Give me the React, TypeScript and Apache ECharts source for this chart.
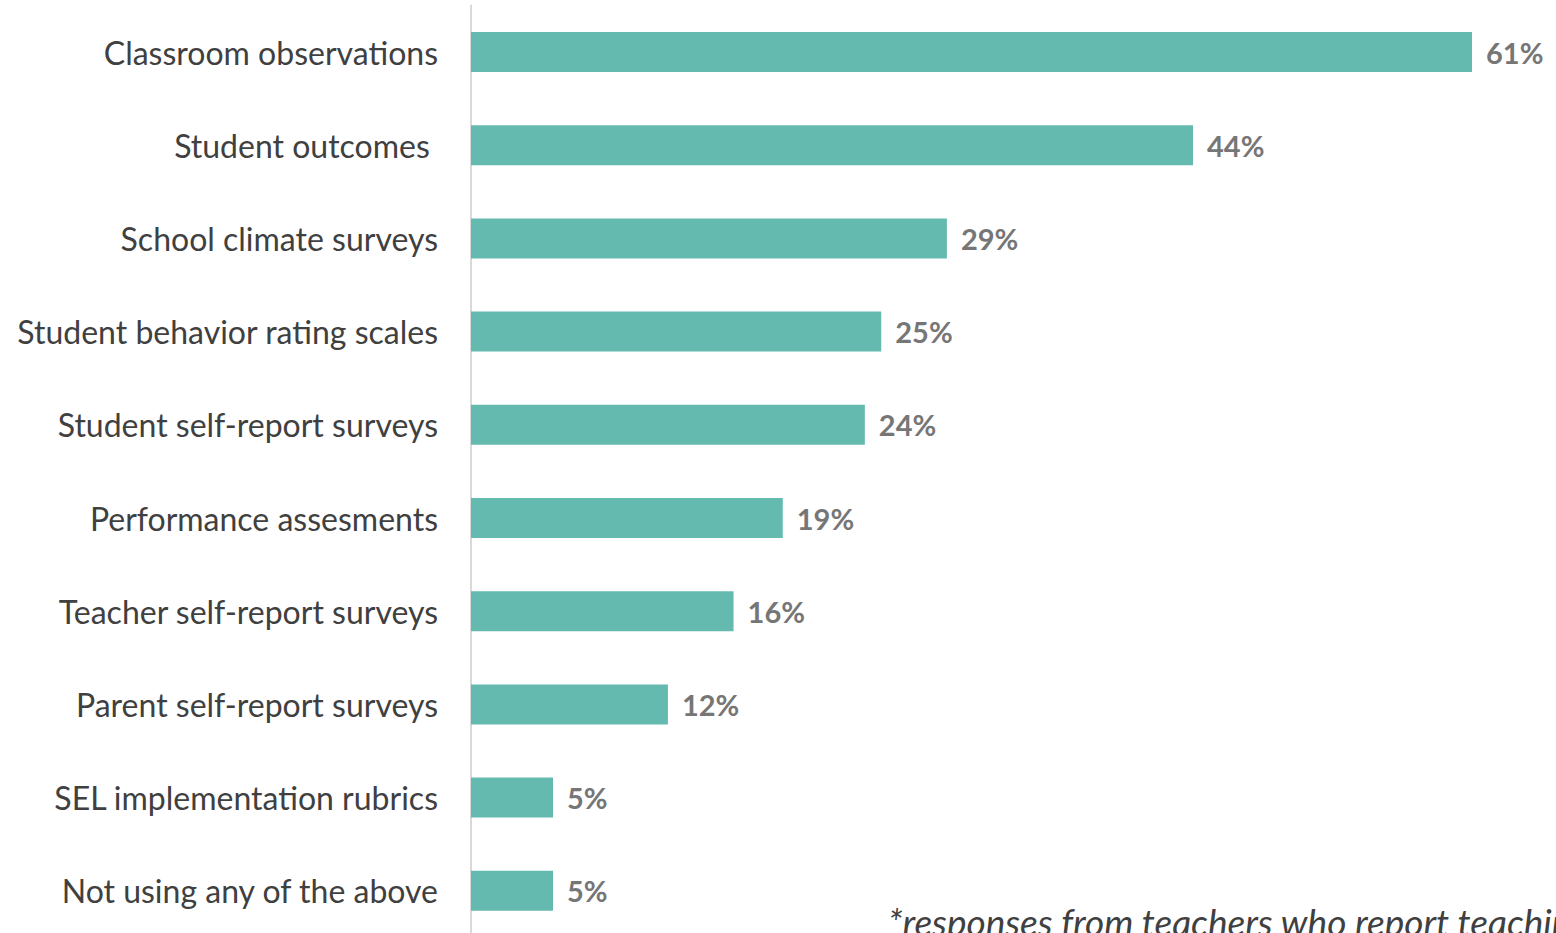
import React, { useEffect, useRef } from "react";
import * as echarts from "echarts";

const categories = [
  "Classroom observations",
  "Student outcomes ",
  "School climate surveys",
  "Student behavior rating scales",
  "Student self-report surveys",
  "Performance assesments",
  "Teacher self-report surveys",
  "Parent self-report surveys",
  "SEL implementation rubrics",
  "Not using any of the above",
];
const values = [61, 44, 29, 25, 24, 19, 16, 12, 5, 5];
const footnote = "*responses from teachers who report teaching";

export default function App() {
  const ref = useRef<HTMLDivElement>(null);
  useEffect(() => {
    document.body.style.margin = "0";
    document.body.style.overflow = "hidden";
    document.documentElement.style.overflow = "hidden";
    const chart = echarts.init(ref.current!, null, { renderer: "svg" });
    chart.setOption({
      animation: false,
      backgroundColor: "#ffffff",
      textStyle: { fontFamily: "Lato" },
      grid: { left: 471, top: 5.4, height: 932, width: 1001, containLabel: false },
      xAxis: {
        type: "value",
        min: 0,
        max: 61,
        show: false,
      },
      yAxis: {
        type: "category",
        data: categories,
        inverse: true,
        axisLine: { show: true, lineStyle: { color: "#d9d9d9", width: 2 } },
        axisTick: { show: false },
        axisLabel: {
          margin: 33,
          color: "#404040",
          fontSize: 32,
          fontFamily: "Lato",
        },
        splitLine: { show: false },
      },
      series: [
        {
          type: "bar",
          data: values,
          barWidth: 40,
          itemStyle: { color: "#64BAAF" },
          label: {
            show: true,
            position: "right",
            distance: 14,
            formatter: "{c}%",
            color: "#767676",
            fontWeight: "bold",
            fontSize: 29,
            fontFamily: "Lato",
          },
        },
      ],
      graphic: [
        {
          type: "text",
          left: 888,
          top: 903,
          style: {
            text: footnote,
            fill: "#404040",
            fontSize: 37,
            fontStyle: "italic",
            fontFamily: "Lato",
          },
        },
      ],
    });
    return () => chart.dispose();
  }, []);
  return (
    <div
      ref={ref}
      style={{ position: "absolute", left: 0, top: 0, width: 1556, height: 960 }}
    />
  );
}
